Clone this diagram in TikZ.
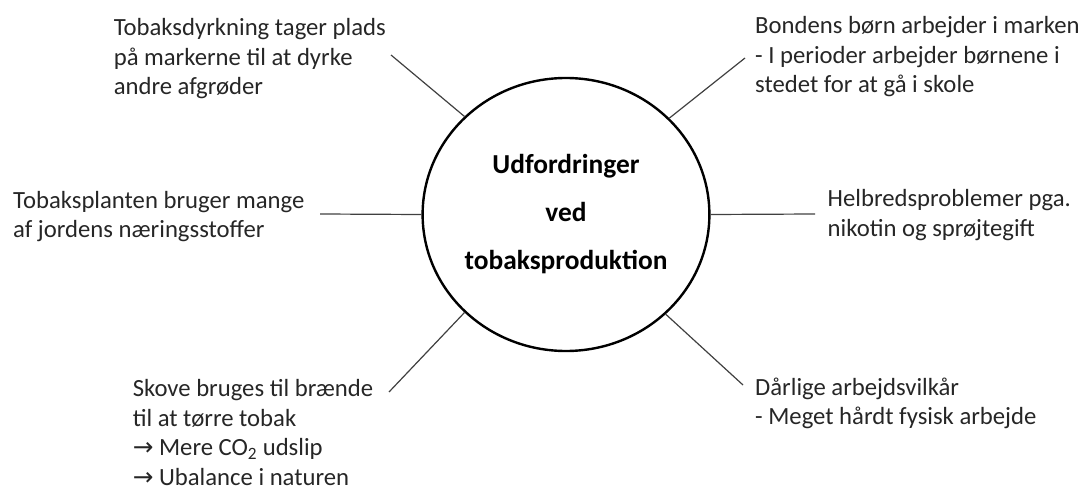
\documentclass[tikz,border=0pt]{standalone}
\usepackage{fontspec}
\setmainfont{Carlito}
\newfontfamily\arrowfont{DejaVu Sans}
\usetikzlibrary{positioning}
\usetikzlibrary{shapes.geometric}

\begin{document}
\begin{tikzpicture}[
        x=1pt, y=-1pt,
        hub/.style={draw, ellipse, line width=2.4pt, minimum width=286pt, minimum height=273pt, inner sep=0pt, align=center, font=\bfseries\fontsize{27.4}{48}\selectfont},
        note/.style={anchor=base west, align=left, inner sep=0pt, text=black!85, font=\fontsize{24.7}{29.5}\selectfont},
        spoke/.style={line width=1.2pt, draw=black!75}
    ]
        \useasboundingbox (0,0) rectangle (1081,489);
        \node[hub] (c) at (566,214.5) {Udfordringer\\ved\\tobaksproduktion};

        \node[note] (n0) at (113.6,95) {Tobaksdyrkning tager plads\\på markerne til at dyrke\\andre afgrøder};
        \node[note] (n1) at (755,93) {Bondens børn arbejder i marken\\- I perioder arbejder børnene i\\stedet for at gå i skole};
        \node[note] (n2) at (13,237.5) {Tobaksplanten bruger mange\\af jordens næringsstoffer};
        \node[note] (n3) at (827.5,236.5) {Helbredsproblemer pga.\\nikotin og sprøjtegift};
        \node[note] (n4) at (132.6,485) {Skove bruges til brænde\\til at tørre tobak\\{\arrowfont →}\ Mere CO\textsubscript{2} udslip\\{\arrowfont →}\ Ubalance i naturen};
        \node[note] (n5) at (755,424.5) {Dårlige arbejdsvilkår\\- Meget hårdt fysisk arbejde};

        \coordinate (e0) at (391,55);
        \coordinate (e1) at (745,58);
        \coordinate (e2) at (320,214);
        \coordinate (e3) at (815,214);
        \coordinate (e4) at (389,392);
        \coordinate (e5) at (743,385);

        \draw[spoke] (c.136) -- (e0);
        \draw[spoke] (c.43) -- (e1);
        \draw[spoke] (c.180) -- (e2);
        \draw[spoke] (c.0) -- (e3);
        \draw[spoke] (c.224) -- (e4);
        \draw[spoke] (c.315) -- (e5);
    \end{tikzpicture}
\end{document}
